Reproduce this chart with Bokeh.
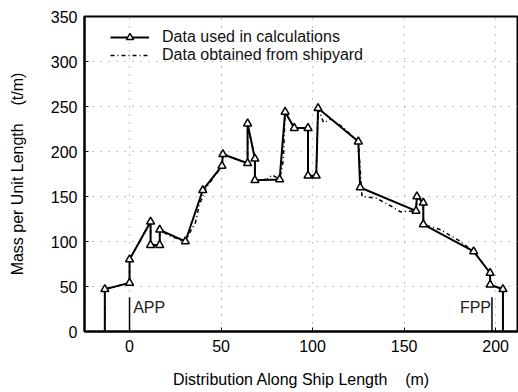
from bokeh.plotting import figure
from bokeh.models import Legend, LegendItem, FixedTicker, Range1d
from bokeh.core.properties import value
from bokeh.embed import file_html
from bokeh.resources import INLINE

# Data used in calculations (m, t/m)
calc_x = [-13.5, -13.5, 0, 0, 11.5, 11.5, 16.5, 16.5, 30.5, 40, 50.5, 51, 64.5, 64.5, 68.5, 68.5, 82, 85, 90, 97.5, 97.5, 102, 103, 125, 126, 156.5, 157, 160.5, 160.5, 188, 197, 197, 204, 204]
calc_y = [0, 47, 54, 80, 122, 96, 96, 113, 100, 157, 184, 197, 187, 231, 192, 168, 169, 244, 226, 226, 173, 173, 248, 211, 160, 134, 150, 143, 119, 89, 65, 52, 47, 0]

# Data obtained from shipyard
ship_x = [-13.5, -13.5, 0, 0, 11.5, 11.5, 16.5, 16.5, 22, 30.5, 33, 36, 38, 42, 50.5, 51, 64.5, 64.5, 68.5, 68.5, 75, 78, 82, 84, 85, 90, 97.5, 97.5, 102, 103, 106, 110, 116, 125, 127, 135, 144, 148, 156.5, 157, 160.5, 160.5, 170, 180, 188, 197, 197, 204, 204]
ship_y = [0, 47, 54, 80, 122, 96, 96, 113, 106, 100, 110, 121, 140, 160, 184, 197, 187, 231, 192, 168, 169, 174, 169, 190, 244, 226, 226, 173, 173, 248, 232, 236, 228, 211, 150, 148, 138, 133, 134, 150, 143, 119, 113, 101, 89, 65, 52, 47, 0]

# Reference lines (APP, FPP)
ref_x = [0, 198]
ref_top = [38, 38]
ref_labels = ["APP", "FPP"]

x_ticks = [0, 50, 100, 150, 200]
y_ticks = [0, 50, 100, 150, 200, 250, 300, 350]

FONT = "Liberation Sans"
FS = "16px"
NB = "\u00a0"

p = figure(width=518, height=392, output_backend="svg", toolbar_location=None,
           x_range=Range1d(-24.6, 212.5), y_range=Range1d(0, 350),
           min_border_left=84, min_border_right=0, min_border_top=16, min_border_bottom=61)

p.background_fill_color = "white"
p.border_fill_color = "white"
p.outline_line_color = "black"
p.outline_line_width = 2

for ax in (p.xaxis[0], p.yaxis[0]):
    ax.axis_line_width = 2
    ax.axis_line_color = "black"
    ax.major_tick_in = 4
    ax.major_tick_out = 0
    ax.minor_tick_line_color = None
    ax.major_label_text_font = FONT
    ax.major_label_text_font_size = FS
    ax.major_label_text_color = "black"
    ax.axis_label_text_font = FONT
    ax.axis_label_text_font_size = FS
    ax.axis_label_text_font_style = "normal"
    ax.axis_label_text_color = "black"

p.xaxis[0].ticker = FixedTicker(ticks=x_ticks)
p.yaxis[0].ticker = FixedTicker(ticks=y_ticks)
p.xaxis[0].major_label_standoff = 8
p.yaxis[0].major_label_standoff = 7
p.xaxis[0].axis_label = "Distribution Along Ship Length" + NB * 4 + "(m)"
p.yaxis[0].axis_label = "Mass per Unit Length" + NB * 4 + "(t/m)"
p.xaxis[0].axis_label_standoff = 16
p.yaxis[0].axis_label_standoff = 22

for g in (p.xgrid[0], p.ygrid[0]):
    g.grid_line_color = "#888888"
    g.grid_line_dash = "1 7"
    g.grid_line_width = 1
p.xgrid[0].ticker = FixedTicker(ticks=x_ticks)
p.ygrid[0].ticker = FixedTicker(ticks=[50, 100, 150, 200, 250, 300])

# reference vertical lines and labels
p.segment(x0=ref_x, y0=[0, 0], x1=ref_x, y1=ref_top, line_color="black", line_width=1.5)
p.text(x=[ref_x[0] + 2], y=[27], text=[ref_labels[0]], text_font=value(FONT),
       text_font_size=FS, text_baseline="middle", text_align="left", text_color="#222222")
p.text(x=[ref_x[1] - 0.5], y=[27], text=[ref_labels[1]], text_font=value(FONT),
       text_font_size=FS, text_baseline="middle", text_align="right", text_color="#222222")

ship = p.line(ship_x, ship_y, line_color="black", line_width=1.5, line_dash="4 3 1 3")
calc_l = p.line(calc_x, calc_y, line_color="black", line_width=2)
calc_m = p.scatter(calc_x[1:-1], calc_y[1:-1], marker="triangle", size=8,
                   fill_color="white", line_color="black", line_width=1.5)

legend = Legend(items=[
    LegendItem(label="Data used in calculations", renderers=[calc_l, calc_m]),
    LegendItem(label="Data obtained from shipyard", renderers=[ship]),
], location=(26, 267))
legend.background_fill_alpha = 0
legend.border_line_color = None
legend.padding = 0
legend.margin = 0
legend.spacing = 0
legend.glyph_width = 39
legend.glyph_height = 18
legend.label_height = 18
legend.label_standoff = 13
legend.label_text_font = FONT
legend.label_text_font_size = FS
legend.label_text_color = "#111111"
p.add_layout(legend)

open("out.html", "w").write(file_html(p, INLINE))
